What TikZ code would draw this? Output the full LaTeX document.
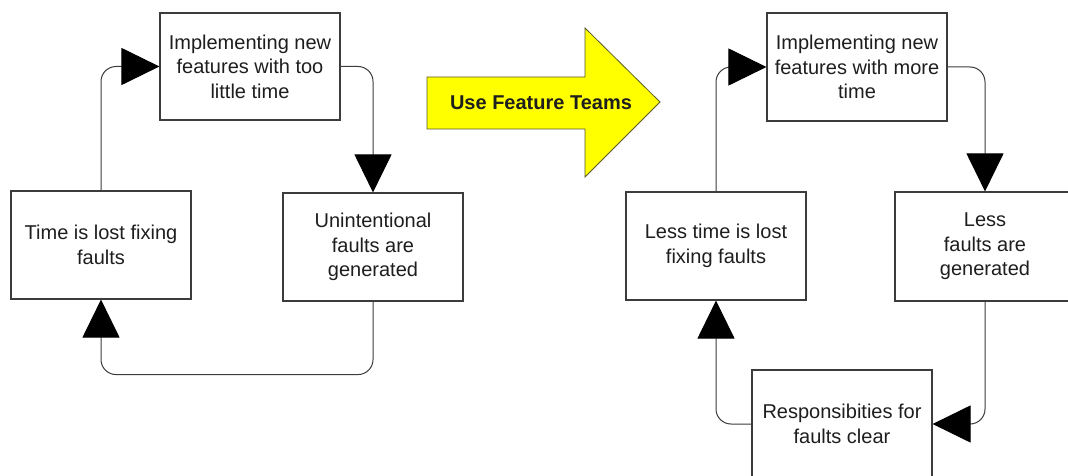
\documentclass[tikz,border=0pt]{standalone}
\usepackage{fontspec}
\setmainfont{Liberation Sans}
\usetikzlibrary{arrows.meta}
\definecolor{linec}{RGB}{60,60,60}
\definecolor{txt}{RGB}{30,30,30}
\definecolor{arrowyellow}{RGB}{255,255,0}
\definecolor{arrowedge}{RGB}{90,90,40}
\tikzset{
  box/.style={draw=linec, line width=1.1pt, rectangle, minimum width=180pt, minimum height=108pt,
    inner sep=0pt, align=center, text=txt, font=\fontsize{20}{24.5}\selectfont},
  conn/.style={draw=linec, line width=1pt, rounded corners=15pt,
    -{Triangle[length=38pt,width=37pt,color=black]}},
}
\begin{document}
\begin{tikzpicture}[x=1pt,y=-1pt]
\useasboundingbox (0,0) rectangle (1068,476);
\clip (0,0) rectangle (1068,476);
\fill[white] (0,0) rectangle (1068,476);
% left cycle
\node[box, minimum height=107pt] (A) at (250,66.5) {Implementing new\\features with too\\little time};
\node[box] (B) at (101,245) {Time is lost fixing\\faults};
\node[box] (C) at (373,247) {Unintentional\\faults are\\generated};
\draw[conn] (B.north) |- (A.west);
\draw[conn] (A.east) -| (C.north);
\draw[conn] (C.south) -- ++(0,73) -| (B.south);
% middle arrow
\draw[fill=arrowyellow, draw=arrowedge, line width=0.8pt]
  (427,77) -- (585,77) -- (585,28) -- (660,102) -- (585,177) -- (585,129) -- (427,129) -- cycle;
\node[font=\fontsize{20}{24}\selectfont\bfseries, text=txt] (U) at (541,103) {Use Feature Teams};
% right cycle
\node[box] (A2) at (857,67) {Implementing new\\features with more\\time};
\node[box] (B2) at (716,246) {Less time is lost\\fixing faults};
\node[box, minimum height=109pt] (C2) at (985,246.5) {Less\\faults are\\generated};
\node[box] (D2) at (842,424) {Responsibities for\\faults clear};
\draw[conn] (B2.north) |- (A2.west);
\draw[conn] (A2.east) -| (C2.north);
\draw[conn] (C2.south) |- (D2.east);
\draw[conn] (D2.west) -| (B2.south);
\end{tikzpicture}
\end{document}
